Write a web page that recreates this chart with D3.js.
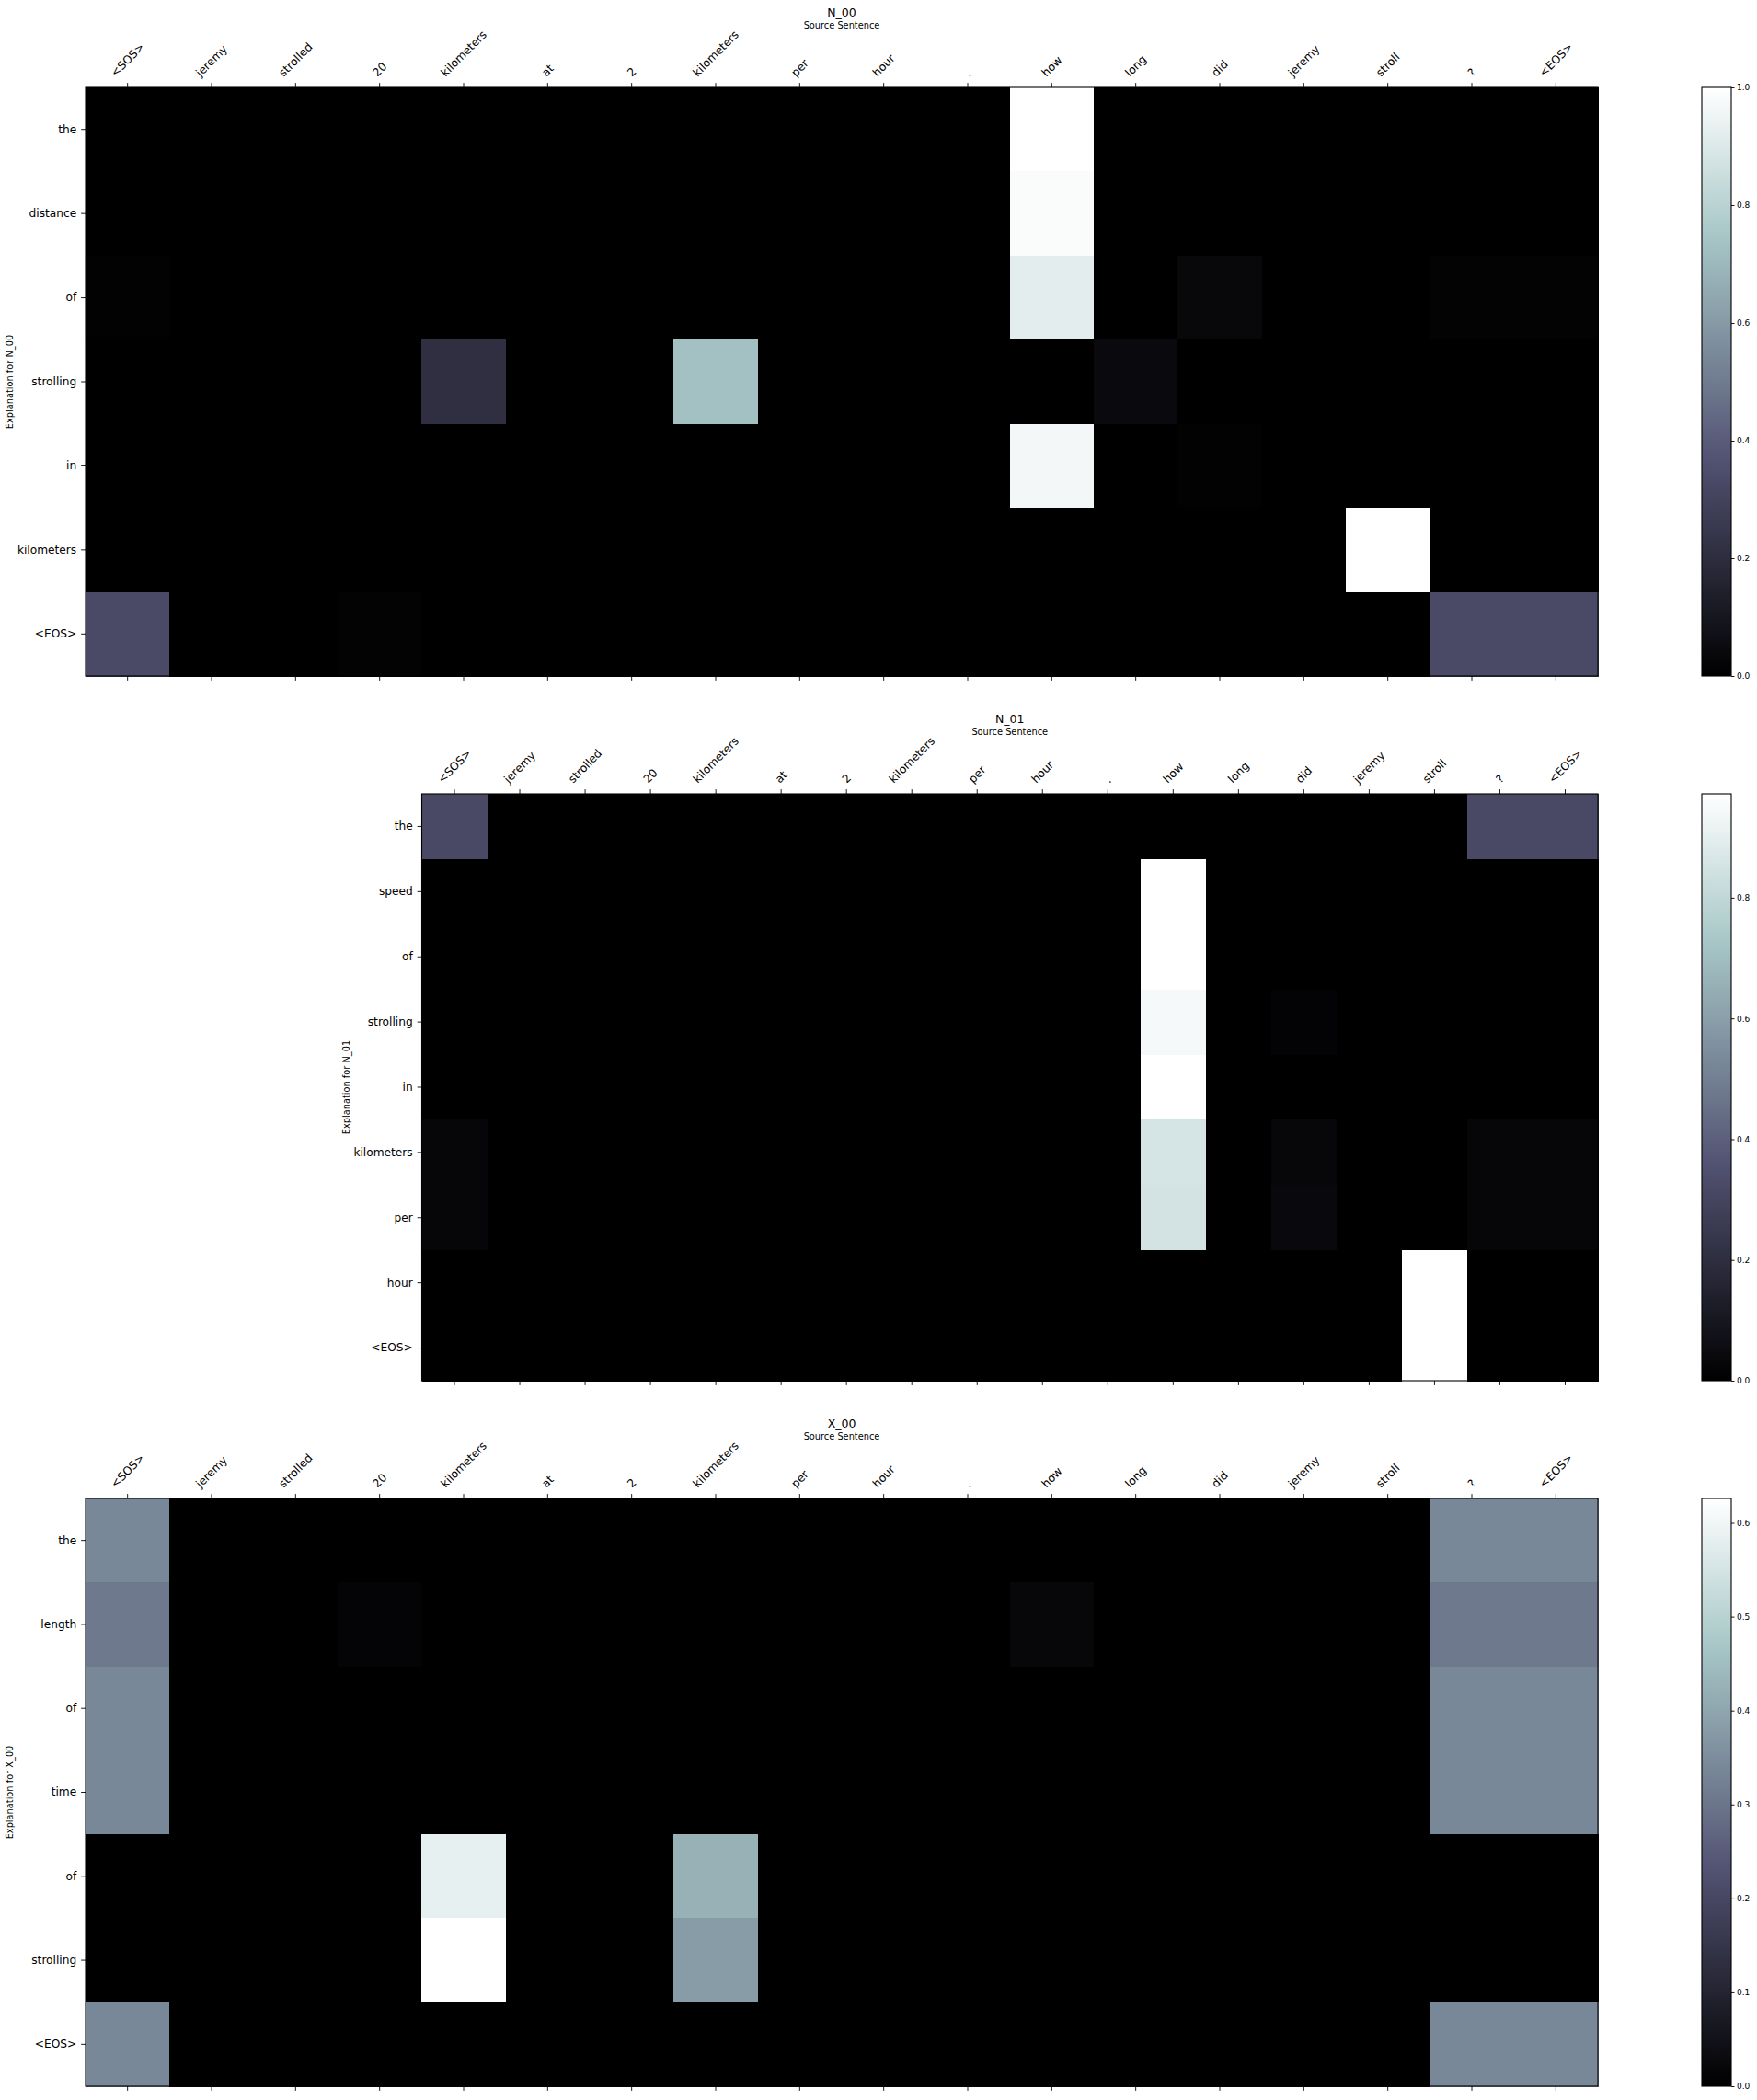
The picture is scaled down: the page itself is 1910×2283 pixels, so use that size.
<!DOCTYPE html>
<html><head><meta charset="utf-8">
<script src="https://cdn.jsdelivr.net/npm/d3@7"></script>
<style>body{margin:0;background:#fff} text{font-family:"DejaVu Sans",sans-serif}</style>
</head><body>
<svg id="c" width="1910" height="2283" xmlns="http://www.w3.org/2000/svg"></svg>
<script>
// ---------------- data ----------------
const sourceTokens = ["<SOS>","jeremy","strolled","20","kilometers","at","2","kilometers","per","hour",".","how","long","did","jeremy","stroll","?","<EOS>"];

const titles = ["N_00","N_01","X_00"];

const rowsN00 = ["the","distance","of","strolling","in","kilometers","<EOS>"];
const valuesN00 = [
  [0,0,0,0,0,0,0,0,0,0,0,1.0,0,0,0,0,0,0],
  [0,0,0,0,0,0,0,0,0,0,0,0.985,0,0,0,0,0,0],
  [0.01,0,0,0,0,0,0,0,0,0,0,0.92,0,0.035,0,0,0.012,0.012],
  [0,0,0,0,0.21,0,0,0.73,0,0,0,0,0.045,0,0,0,0,0],
  [0,0,0,0,0,0,0,0,0,0,0,0.966,0,0.01,0,0,0,0],
  [0,0,0,0,0,0,0,0,0,0,0,0,0,0,0,1.0,0,0],
  [0.33,0,0,0.012,0,0,0,0,0,0,0,0,0,0,0,0,0.33,0.33]
];
const vmaxN00 = 1.0;
const ticksN00 = [0.0,0.2,0.4,0.6,0.8,1.0];

const rowsN01 = ["the","speed","of","strolling","in","kilometers","per","hour","<EOS>"];
const valuesN01 = [
  [0.32,0,0,0,0,0,0,0,0,0,0,0,0,0,0,0,0.32,0.32],
  [0,0,0,0,0,0,0,0,0,0,0,0.972,0,0,0,0,0,0],
  [0,0,0,0,0,0,0,0,0,0,0,0.972,0,0,0,0,0,0],
  [0,0,0,0,0,0,0,0,0,0,0,0.945,0,0.015,0,0,0,0],
  [0,0,0,0,0,0,0,0,0,0,0,0.972,0,0,0,0,0,0],
  [0.025,0,0,0,0,0,0,0,0,0,0,0.855,0,0.03,0,0,0.025,0.025],
  [0.025,0,0,0,0,0,0,0,0,0,0,0.85,0,0.04,0,0,0.025,0.025],
  [0,0,0,0,0,0,0,0,0,0,0,0,0,0,0,0.972,0,0],
  [0,0,0,0,0,0,0,0,0,0,0,0,0,0,0,0.972,0,0]
];
const vmaxN01 = 0.972;
const ticksN01 = [0.0,0.2,0.4,0.6,0.8];

const rowsX00 = ["the","length","of","time","of","strolling","<EOS>"];
const valuesX00 = [
  [0.34,0,0,0,0,0,0,0,0,0,0,0,0,0,0,0,0.34,0.34],
  [0.31,0,0,0.012,0,0,0,0,0,0,0,0.02,0,0,0,0,0.31,0.31],
  [0.34,0,0,0,0,0,0,0,0,0,0,0,0,0,0,0,0.34,0.34],
  [0.34,0,0,0,0,0,0,0,0,0,0,0,0,0,0,0,0.34,0.34],
  [0,0,0,0,0.583,0,0,0.424,0,0,0,0,0,0,0,0,0,0],
  [0,0,0,0,0.626,0,0,0.38,0,0,0,0,0,0,0,0,0,0],
  [0.34,0,0,0,0,0,0,0,0,0,0,0,0,0,0,0,0.34,0.34]
];
const vmaxX00 = 0.626;
const ticksX00 = [0.0,0.1,0.2,0.3,0.4,0.5,0.6];

// ---------------- colormap (matplotlib "bone") ----------------
function bone(t){
  t = Math.max(0, Math.min(1, t));
  const r = t < 0.746032 ? t*0.652778/0.746032 : 0.652778 + (t-0.746032)*(1-0.652778)/(1-0.746032);
  const g = t < 0.365079 ? t*0.319444/0.365079
          : t < 0.746032 ? 0.319444 + (t-0.365079)*(0.777778-0.319444)/(0.746032-0.365079)
          : 0.777778 + (t-0.746032)*(1-0.777778)/(1-0.746032);
  const b = t < 0.365079 ? t*0.444444/0.365079 : 0.444444 + (t-0.365079)*(1-0.444444)/(1-0.365079);
  return d3.rgb(r*255, g*255, b*255).formatHex();
}

// ---------------- layout ----------------
const svg = d3.select("#c");
svg.append("rect").attr("width",1910).attr("height",2283).attr("fill","#fff");

const panels = [
  {title: titles[0], rows: rowsN00, values: valuesN00, vmax: vmaxN00, cticks: ticksN00, left: 93, right: 1737, top: 95, bottom: 735},
  {title: titles[1], rows: rowsN01, values: valuesN01, vmax: vmaxN01, cticks: ticksN01, left: 458.5, right: 1737, top: 863, bottom: 1501},
  {title: titles[2], rows: rowsX00, values: valuesX00, vmax: vmaxX00, cticks: ticksX00, left: 93, right: 1737, top: 1629, bottom: 2268}
];

const TICK = 4.9, PAD = 4.9, FS_TICK = 12.2;
const CB_LEFT = 1850, CB_RIGHT = 1882;

// gradient for colorbars
const defs = svg.append("defs");
const grad = defs.append("linearGradient").attr("id","boneGrad")
  .attr("x1","0").attr("y1","1").attr("x2","0").attr("y2","0");
d3.range(0, 1.0001, 0.02).forEach(t => {
  grad.append("stop").attr("offset", t).attr("stop-color", bone(t));
});

panels.forEach((p, pi) => {
  const g = svg.append("g");
  const x = d3.scaleBand().domain(d3.range(sourceTokens.length)).range([p.left, p.right]);
  const y = d3.scaleBand().domain(d3.range(p.rows.length)).range([p.top, p.bottom]);
  const color = d3.scaleSequential(bone).domain([0, p.vmax]);

  const cells = [];
  p.values.forEach((row, ri) => row.forEach((v, ci) => cells.push({ri, ci, v})));

  g.append("g").selectAll("rect").data(cells).join("rect")
    .attr("x", d => x(d.ci))
    .attr("y", d => y(d.ri))
    .attr("width", x.bandwidth() + 0.6)
    .attr("height", y.bandwidth() + 0.6)
    .attr("fill", d => color(d.v))
    .attr("shape-rendering","crispEdges");

  // top axis with rotated labels
  const top = g.append("g").attr("transform", `translate(0,${p.top})`)
    .call(d3.axisTop(x).tickSize(TICK).tickPadding(PAD).tickFormat(i => sourceTokens[i]));
  top.select(".domain").remove();
  top.attr("font-size", FS_TICK).attr("font-family", "DejaVu Sans");
  top.selectAll(".tick line").attr("stroke","#000").attr("stroke-width",0.9);
  top.selectAll(".tick text").each(function(){
    const t = d3.select(this);
    const w = this.getComputedTextLength();
    const h = FS_TICK * 1.0;
    const half = (w + h) * 0.7071 / 2;
    t.attr("y", null).attr("dy", "0.346em").attr("x", 0)
     .attr("text-anchor","middle").attr("fill","#000")
     .attr("transform", `translate(0,${-(TICK + PAD + half)}) rotate(-45)`);
  });

  // bottom ticks
  const bot = g.append("g").attr("transform", `translate(0,${p.bottom})`)
    .call(d3.axisBottom(x).tickSize(TICK).tickFormat(""));
  bot.select(".domain").remove();
  bot.selectAll(".tick line").attr("stroke","#000").attr("stroke-width",0.9);

  // left axis
  const la = g.append("g").attr("transform", `translate(${p.left},0)`)
    .call(d3.axisLeft(y).tickSize(TICK).tickPadding(PAD).tickFormat(i => p.rows[i]));
  la.select(".domain").remove();
  la.attr("font-size", FS_TICK).attr("font-family", "DejaVu Sans");
  la.selectAll(".tick line").attr("stroke","#000").attr("stroke-width",0.9);
  la.selectAll(".tick text").attr("fill","#000");

  // frame
  g.append("rect").attr("x", p.left).attr("y", p.top)
    .attr("width", p.right - p.left).attr("height", p.bottom - p.top)
    .attr("fill","none").attr("stroke","#000").attr("stroke-width",1.1);

  // titles
  const cx = (p.left + p.right) / 2;
  g.append("text").attr("x", cx).attr("y", p.top - 77).attr("text-anchor","middle")
    .attr("font-size", 12.5).text(p.title);
  g.append("text").attr("x", cx).attr("y", p.top - 64).attr("text-anchor","middle")
    .attr("font-size", 9.8).text("Source Sentence");
  const cy = (p.top + p.bottom) / 2;
  g.append("text").attr("transform", `translate(${p.left - 82},${cy}) rotate(-90)`)
    .attr("text-anchor","middle").attr("dy","0.35em")
    .attr("font-size", 9.8).text("Explanation for " + p.title);

  // colorbar
  const cs = d3.scaleLinear().domain([0, p.vmax]).range([p.bottom, p.top]);
  g.append("rect").attr("x", CB_LEFT).attr("y", p.top)
    .attr("width", CB_RIGHT - CB_LEFT).attr("height", p.bottom - p.top)
    .attr("fill","url(#boneGrad)");
  g.append("rect").attr("x", CB_LEFT).attr("y", p.top)
    .attr("width", CB_RIGHT - CB_LEFT).attr("height", p.bottom - p.top)
    .attr("fill","none").attr("stroke","#000").attr("stroke-width",1.1);
  const ca = g.append("g").attr("transform", `translate(${CB_RIGHT},0)`)
    .call(d3.axisRight(cs).tickValues(p.cticks).tickSize(3.5).tickPadding(2.5).tickFormat(d3.format(".1f")));
  ca.select(".domain").remove();
  ca.attr("font-size", 9).attr("font-family", "DejaVu Sans");
  ca.selectAll(".tick line").attr("stroke","#000").attr("stroke-width",0.9);
  ca.selectAll(".tick text").attr("fill","#000");
});
</script>
</body></html>
